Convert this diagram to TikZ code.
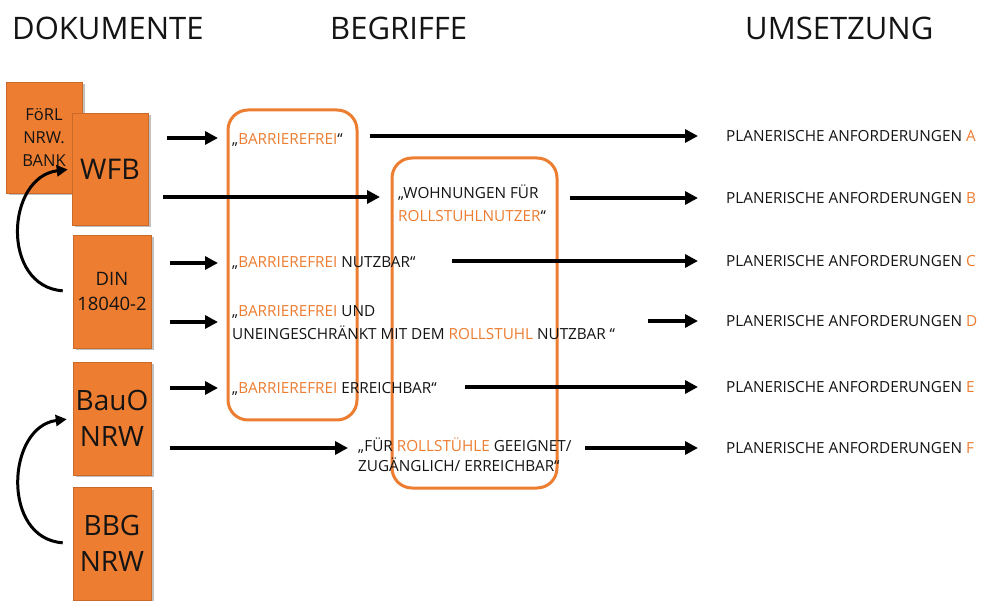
\documentclass[tikz,border=0pt]{standalone}
\usepackage{fontspec}
\setmainfont{Open Sans}
\usetikzlibrary{arrows.meta,shadows}
\definecolor{orng}{HTML}{ED7D31}
\definecolor{ink}{HTML}{141414}
\newcommand{\og}[1]{\textcolor{orng}{#1}}
\begin{document}
\begin{tikzpicture}[x=1pt,y=-1pt,
  docbox/.style={fill=orng, draw=orng!85!black, line width=0.6pt, inner sep=0pt, text=ink,
    align=center, minimum width=78pt, drop shadow={shadow xshift=2.5pt, shadow yshift=-2.5pt, opacity=0.4, fill=black!60}},
  head/.style={font=\fontsize{31}{34}\selectfont, text=ink, inner sep=0pt, anchor=west},
  term/.style={font=\fontsize{15.3}{23}\selectfont, text=ink, inner sep=0pt, anchor=west, align=left},
  group/.style={draw=orng, line width=3pt, rounded corners=20pt},
  arr/.style={-{Triangle[length=13pt,width=13pt]}, line width=3.5pt, black},
  curvarr/.style={-{Triangle[length=11pt,width=11pt]}, line width=3pt, black}]
\useasboundingbox (0,0) rectangle (983,601);
\fill[white] (0,0) rectangle (983,601);

% headings
\node[head] (h1) at (12,28) {DOKUMENTE};
\node[head] (h2) at (330,28) {BEGRIFFE};
\node[head] (h3) at (745,28) {UMSETZUNG};

% document boxes
\node[docbox, minimum width=76pt, minimum height=111pt, font=\fontsize{16.5}{23}\selectfont] (foerl) at (44,137.5) {FöRL\\NRW.\\BANK};
\node[docbox, minimum width=76pt, minimum height=112pt, font=\fontsize{28.5}{30}\selectfont] (wfb) at (110,169) {WFB};
\node[docbox, minimum height=113pt, font=\fontsize{18.5}{25}\selectfont] (din) at (112,291.5) {DIN\\18040-2};
\node[docbox, minimum height=113pt, font=\fontsize{28}{36}\selectfont] (bauo) at (112,418.5) {BauO\\NRW};
\node[docbox, minimum height=113pt, font=\fontsize{28}{36}\selectfont] (bbg) at (112,543.5) {BBG\\NRW};

% curved arrows
\draw[curvarr, shorten <=10pt, shorten >=4pt] (din.west) .. controls +(-72,-5) and +(-66,8) .. (wfb.west);
\draw[curvarr, shorten <=10pt, shorten >=6pt] (bbg.west) .. controls +(-72,-5) and +(-66,8) .. (bauo.west);

% grouping frames
\draw[group] (228,110) rectangle (357,420);
\draw[group] (392,158) rectangle (557,488);

% terms
\node[term] (ta) at (232,140) {„\og{BARRIEREFREI}“};
\node[term] (tb) at (398,203.5) {„WOHNUNGEN FÜR\\\og{ROLLSTUHLNUTZER}“};
\node[term] (tc) at (232,263) {„\og{BARRIEREFREI} NUTZBAR“};
\node[term] (td) at (232,323) {„\og{BARRIEREFREI} UND\\UNEINGESCHRÄNKT MIT DEM \og{ROLLSTUHL} NUTZBAR “};
\node[term] (te) at (232,389) {„\og{BARRIEREFREI} ERREICHBAR“};
\node[term, font=\fontsize{15.3}{20}\selectfont] (tf) at (358,455) {„FÜR \og{ROLLSTÜHLE} GEEIGNET/\\ZUGÄNGLICH/ ERREICHBAR“};

% results
\foreach \n/\y/\l in {ra/136/A, rb/198/B, rc/261/C, rd/321/D, re/387/E, rf/448/F}
  \node[term] (\n) at (726,\y) {PLANERISCHE ANFORDERUNGEN \og{\l}};

% start points of the left arrows
\coordinate (sa) at (167,138);
\coordinate (sb) at (163,197);
\coordinate (sc) at (170,263);
\coordinate (sd) at (170,322);
\coordinate (se) at (170,388);
\coordinate (sf) at (170,448);

\draw[arr] (sa) -- (sa -| 218,0);
\draw[arr] (sb) -- (sb -| 380,0);
\draw[arr] (sc) -- (sc -| 218,0);
\draw[arr] (sd) -- (sd -| 218,0);
\draw[arr] (se) -- (se -| 218,0);
\draw[arr] (sf) -- (sf -| 348,0);

% right arrows
\draw[arr] (ra.west -| 370,0) -- ([xshift=-28pt]ra.west);
\draw[arr] (rb.west -| 570,0) -- ([xshift=-28pt]rb.west);
\draw[arr] (rc.west -| 452,0) -- ([xshift=-28pt]rc.west);
\draw[arr] (rd.west -| 648,0) -- ([xshift=-28pt]rd.west);
\draw[arr] (re.west -| 465,0) -- ([xshift=-28pt]re.west);
\draw[arr] (rf.west -| 585,0) -- ([xshift=-28pt]rf.west);
\end{tikzpicture}
\end{document}
